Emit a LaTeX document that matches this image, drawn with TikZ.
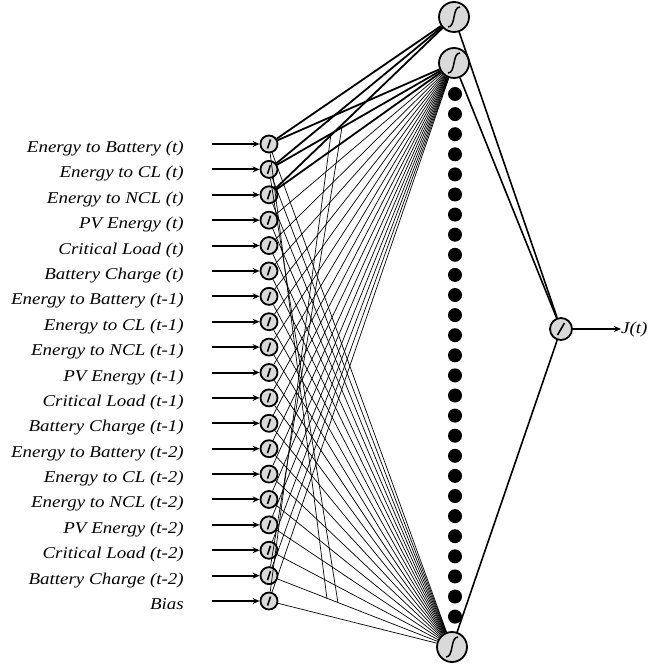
\documentclass[tikz,border=0pt]{standalone}
\usepackage{fontspec}
\setmainfont{Liberation Serif}
\newfontfamily\labfont[FakeStretch=1.15]{Liberation Serif}
\usetikzlibrary{arrows.meta}
\begin{document}
\begin{tikzpicture}[x=1pt,y=-1pt,
  neuron/.style={circle,draw,line width=1.8pt,fill=black!15,inner sep=0pt},
  innode/.style={neuron,minimum size=17pt},
  hidnode/.style={neuron,minimum size=30pt},
  outnode/.style={neuron,minimum size=22pt},
  labtext/.style={inner sep=0pt,font=\labfont\fontsize{16.5}{18}\selectfont\itshape},
  inlabel/.style={labtext,anchor=base east},
  feed/.style={line width=2pt,-{Stealth[length=7pt,width=6pt]}},
  wbold/.style={line width=1.8pt},
  wthin/.style={line width=0.7pt},
  wout/.style={line width=1.6pt},
  dot/.style={circle,fill=black,inner sep=0pt,minimum size=14pt}]
\useasboundingbox (0,0) rectangle (667,668);

% input layer
\foreach \k/\txt in {1/Energy to Battery (t),2/Energy to CL (t),3/Energy to NCL (t),
  4/PV Energy (t),5/Critical Load (t),6/Battery Charge (t),
  7/Energy to Battery (t-1),8/Energy to CL (t-1),9/Energy to NCL (t-1),
  10/PV Energy (t-1),11/Critical Load (t-1),12/Battery Charge (t-1),
  13/Energy to Battery (t-2),14/Energy to CL (t-2),15/Energy to NCL (t-2),
  16/PV Energy (t-2),17/Critical Load (t-2),18/Battery Charge (t-2),19/Bias}{
  \pgfmathsetmacro{\yy}{144+(\k-1)*25.39}
  \node[innode] (i\k) at (269,\yy) {};
  \node[inlabel] (l\k) at (184,\yy+8.5) {\txt};
  \coordinate (s\k) at (212,\yy);
}

% hidden layer
\node[hidnode] (h1) at (454,17) {};
\node[hidnode] (h2) at (454,63) {};
\node[hidnode] (h3) at (452,647) {};
\foreach \d in {0,...,26}{
  \node[dot] (d\d) at (455,94+\d*20.1) {};
}

% output layer
\node[outnode] (o) at (561,329) {};
\coordinate (jt) at (621,329);
\node[labtext,anchor=west] (jl) at (621,330) {J(t)};

% weights input -> hidden
\foreach \k in {1,...,3}{
  \draw[wbold] (i\k) -- (h1);
  \draw[wbold] (i\k) -- (h2);
}
\foreach \k in {4,...,19}{
  \draw[wthin] (i\k) -- (h2);
}
\foreach \k in {1,...,19}{
  \draw[wthin] (i\k) -- (h3);
}
% long steep weights along the input column
\coordinate (e1) at (327,599);
\coordinate (e2) at (338,603);
\coordinate (e3) at (331,134);
\coordinate (e4) at (342,127);
\draw[wthin] (i1) -- (e1);
\draw[wthin] (i2) -- (e2);
\draw[wthin] (i19) -- (e3);
\draw[wthin] (i18) -- (e4);

% weights hidden -> output
\draw[wout] (h1) -- (o);
\draw[wout] (h2) -- (o);
\draw[wout] (h3) -- (o);
\draw[feed] (o) -- (jt);

% input arrows
\foreach \k in {1,...,19}{
  \draw[feed] (s\k) -- (i\k);
}

% activation glyphs
\foreach \h in {h1,h2,h3}{
  \draw[line width=1.5pt,shift={(\h)}] (-6,10) .. controls (2,10) and (-2,-10) .. (6,-10);
}
\foreach \k in {1,...,19}{
  \draw[line width=1.6pt,shift={(i\k)}] (-1.5,4.5) -- (1.5,-4.5);
}
\draw[line width=1.6pt,shift={(o)}] (-3.5,6) -- (3.5,-6);
\end{tikzpicture}
\end{document}
